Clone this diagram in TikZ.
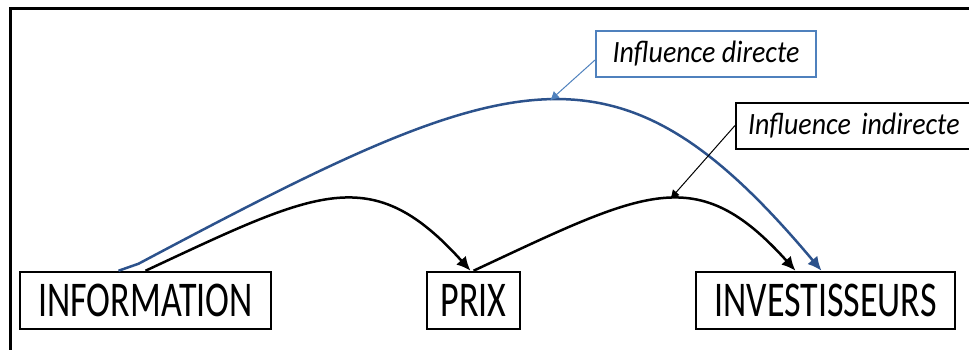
\documentclass[tikz,border=0pt]{standalone}
\usepackage{fontspec}
\setmainfont{Carlito}
\newfontfamily\boxfont[FakeStretch=0.72]{Carlito}
\newfontfamily\notefont[FakeStretch=0.9]{Carlito}
\usepackage{tikz}
\usetikzlibrary{arrows.meta}
\definecolor{darkblue}{RGB}{44,82,140}
\definecolor{lightblue}{RGB}{79,129,189}

\begin{document}
\begin{tikzpicture}[x=1pt,y=-1pt,
        box/.style={draw, line width=2.5pt, minimum height=57pt, inner sep=0pt,
            font=\boxfont\fontsize{50}{50}\selectfont},
        note/.style={draw, line width=2pt, minimum height=46pt, inner sep=0pt,
            font=\notefont\itshape\fontsize{31}{31}\selectfont},
        link/.style={line width=2.5pt, -{Latex[length=14pt,width=13pt]}},
        pointer/.style={line width=1pt, -{Latex[length=9pt,width=9pt]}}]
        \useasboundingbox (0,0) rectangle (969,349);
        % Outer frame
        \draw[line width=3pt] (10,8) rectangle (990,370);

        % Boxes
        \node (info) [box, minimum width=251pt] at (145.5,300.5) {INFORMATION};
        \node (prix) [box, minimum width=93pt] at (473.5,300.5) {PRIX};
        \node (invest) [box, minimum width=259pt] at (825.5,300.5) {INVESTISSEURS};

        % Labels
        \node (direct) [note, draw=lightblue, minimum width=220pt] at (706,54) {Influence directe};
        \node (indirect) [note, anchor=west, inner xsep=12pt, text width=230pt, align=left]
            at (735,125.5) {Influence indirecte};

        % Influence directe
        \draw[link, darkblue] ([xshift=-27pt]info.north) -- ++(20,-7)
            .. controls +(28:426pt) and +(130:319pt) .. ([xshift=-4pt]invest.north)
            coordinate[pos=0.51] (peak);

        % Influence indirecte
        \draw[link] (info.north)
            .. controls +(25:190pt) and +(132:148pt) .. ([xshift=-3pt]prix.north);
        \draw[link] (prix.north)
            .. controls +(25:190pt) and +(132:148pt) .. ([xshift=-30pt]invest.north)
            coordinate[pos=0.53] (crest);

        % Pointers
        \draw[pointer, lightblue] ([yshift=-6pt]direct.west) -- (peak);
        \draw[pointer] (indirect.west) -- (crest);
    \end{tikzpicture}
\end{document}
